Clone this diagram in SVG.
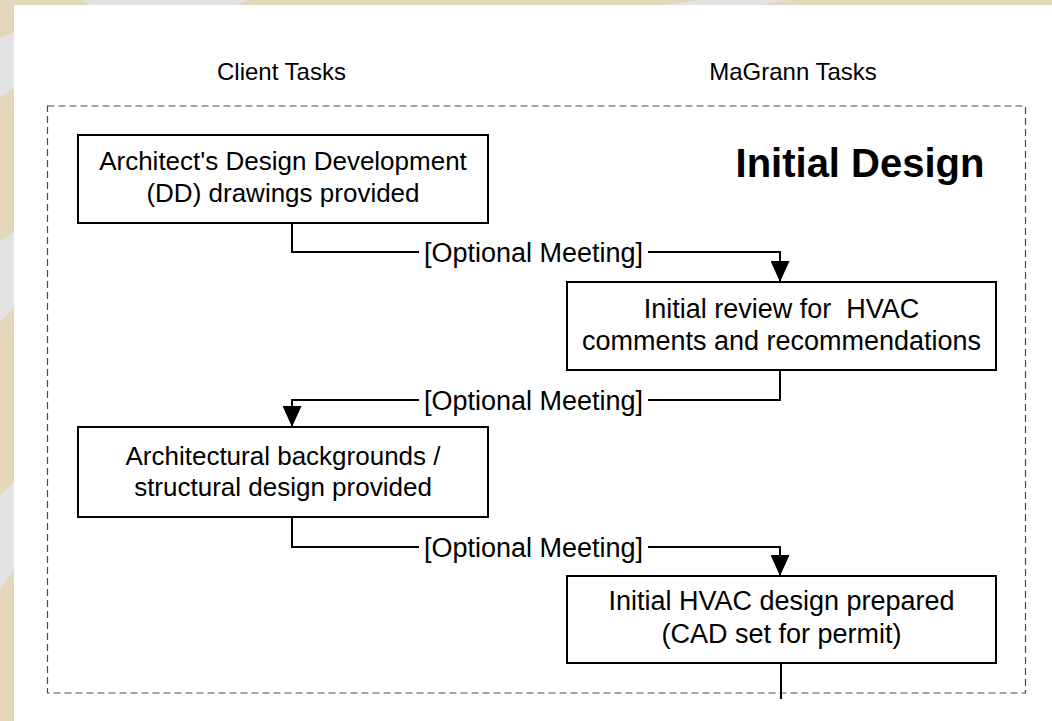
<svg xmlns="http://www.w3.org/2000/svg" width="1052" height="721" viewBox="0 0 1052 721">
  <defs>
    <style>
      .bg { fill: #e4d8bb; }
      .stripe { fill: #e3e3e3; }
      .panel { fill: #ffffff; }
      .frame { fill: none; stroke: #4a4a4a; stroke-width: 1.2; stroke-dasharray: 7 4; }
      .box { fill: #ffffff; stroke: #000000; stroke-width: 2; }
      .wire { fill: none; stroke: #000000; stroke-width: 2; }
      .head { font-family: "Liberation Sans", Arial, sans-serif; font-size: 24px; fill: #000000; text-anchor: middle; }
      .txt { font-family: "Liberation Sans", Arial, sans-serif; font-size: 27px; fill: #000000; text-anchor: middle; }
      .client { font-size: 26px; }
      .title { font-family: "Liberation Sans", Arial, sans-serif; font-size: 40px; font-weight: bold; fill: #000000; text-anchor: middle; }
    </style>
    <marker id="arrow" markerWidth="21" markerHeight="19" refX="21" refY="9.5" orient="auto" markerUnits="userSpaceOnUse">
      <path d="M0,0 L21,9.5 L0,19 Z" fill="#000000"/>
    </marker>
  </defs>

  <!-- page background with diagonal bands -->
  <rect class="bg" x="0" y="0" width="1052" height="721"/>
  <polygon class="stripe" points="0,38 14,32 14,88 0,98"/>
  <polygon class="stripe" points="0,242 14,232 14,309 0,321"/>
  <polygon class="stripe" points="0,495 14,482 14,570 0,588"/>
  <polygon class="stripe" points="80,0 250,0 235,5 90,5"/>
  <polygon class="stripe" points="700,0 790,0 760,5 663,5"/>
  <rect class="panel" x="14" y="5" width="1038" height="716"/>

  <!-- lane headers -->
  <text class="head" x="281.5" y="80">Client Tasks</text>
  <text class="head" x="793" y="80">MaGrann Tasks</text>

  <!-- phase frame -->
  <rect class="frame" x="47.5" y="106" width="978" height="587"/>
  <text class="title" x="860" y="177">Initial Design</text>

  <!-- connectors -->
  <g id="connectors">
    <path class="wire" d="M292,223 V252 H419"/>
    <path class="wire" d="M648,252 H780 V282" marker-end="url(#arrow)"/>
    <text class="txt" x="533.5" y="261.5">[Optional Meeting]</text>

    <path class="wire" d="M780,370 V400 H648"/>
    <path class="wire" d="M419,400 H292 V427" marker-end="url(#arrow)"/>
    <text class="txt" x="533.5" y="409.5">[Optional Meeting]</text>

    <path class="wire" d="M292,517 V547 H419"/>
    <path class="wire" d="M648,547 H780 V576" marker-end="url(#arrow)"/>
    <text class="txt" x="533.5" y="556.5">[Optional Meeting]</text>

    <path class="wire" d="M781,663 V699"/>
  </g>

  <!-- client task: DD drawings -->
  <g id="node-dd-drawings">
    <rect class="box" x="78" y="135" width="410" height="88"/>
    <text class="txt client" x="283" y="170">Architect's Design Development</text>
    <text class="txt client" x="283" y="202">(DD) drawings provided</text>
  </g>

  <!-- MaGrann task: initial review -->
  <g id="node-initial-review">
    <rect class="box" x="567" y="282" width="429" height="88"/>
    <text class="txt" x="781.5" y="318" xml:space="preserve">Initial review for  HVAC</text>
    <text class="txt" x="781.5" y="350">comments and recommendations</text>
  </g>

  <!-- client task: backgrounds -->
  <g id="node-backgrounds">
    <rect class="box" x="78" y="427" width="410" height="90"/>
    <text class="txt client" x="283" y="465">Architectural backgrounds /</text>
    <text class="txt client" x="283" y="496">structural design provided</text>
  </g>

  <!-- MaGrann task: HVAC design -->
  <g id="node-hvac-design">
    <rect class="box" x="567" y="576" width="429" height="87"/>
    <text class="txt" x="781.5" y="610">Initial HVAC design prepared</text>
    <text class="txt" x="781.5" y="643">(CAD set for permit)</text>
  </g>
</svg>
